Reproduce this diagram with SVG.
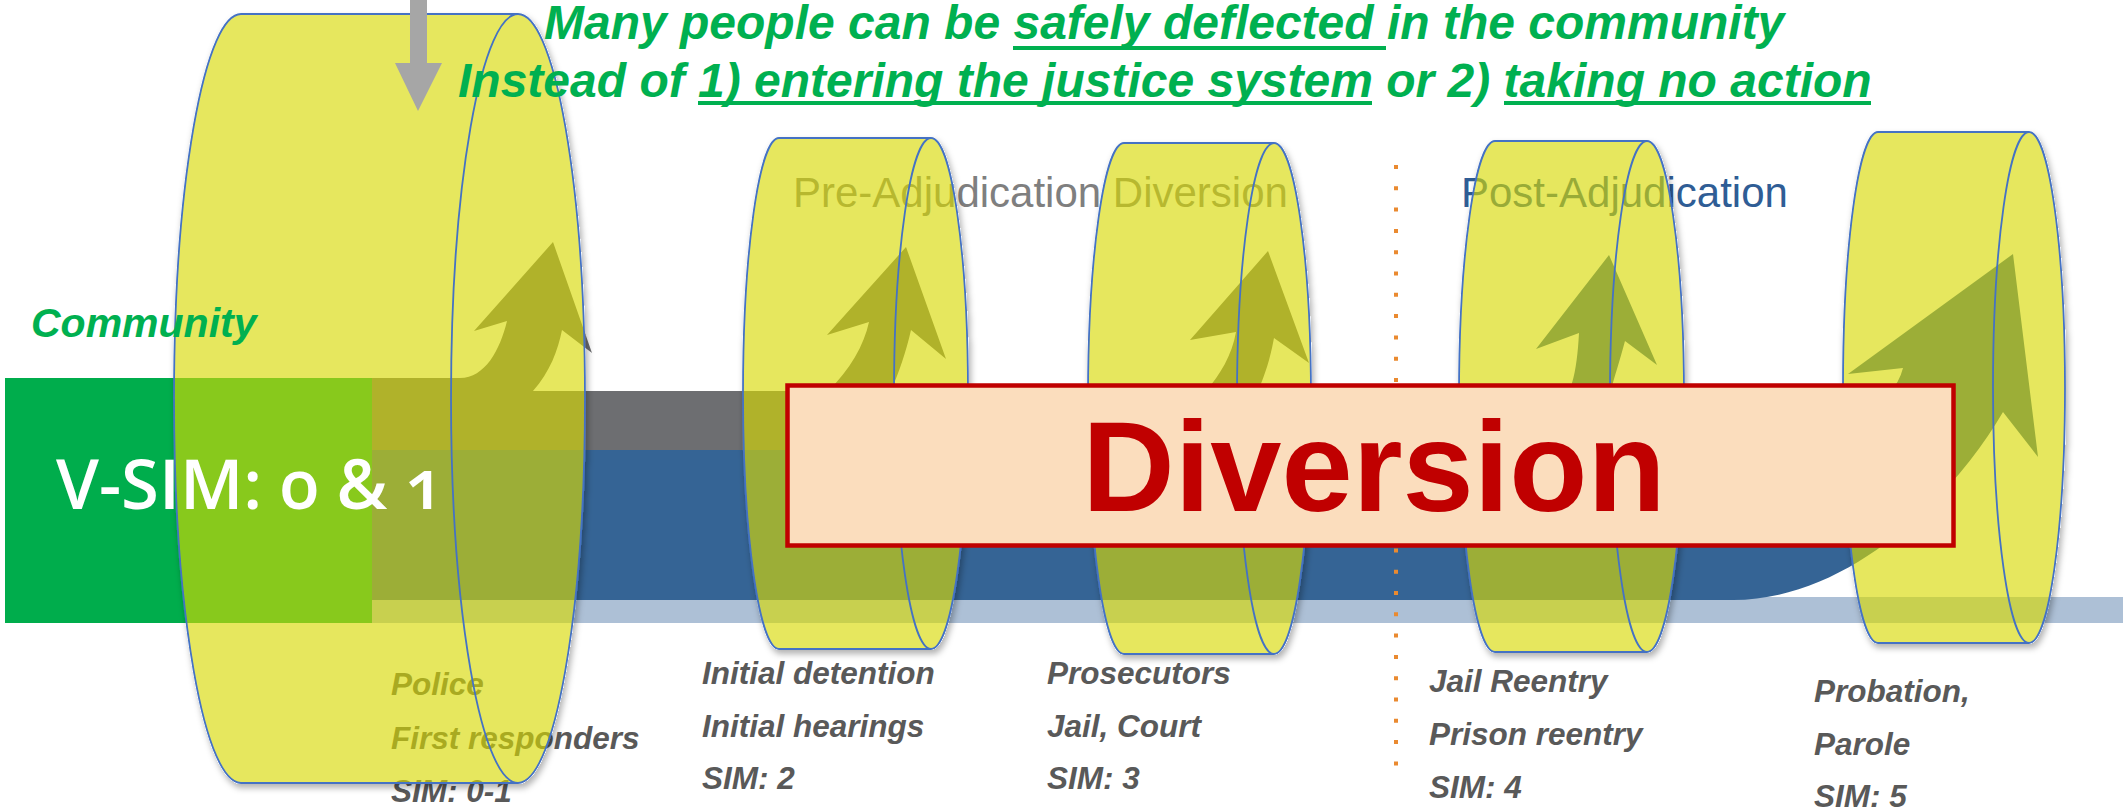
<svg xmlns="http://www.w3.org/2000/svg" width="2123" height="812" viewBox="0 0 2123 812">
<style>
.cyl{fill:#D7D906;fill-opacity:0.63;stroke:#4472C4;stroke-width:1.8;filter:url(#sh)}
.cin{fill:none;stroke:#4472C4;stroke-width:1.8}
.lbl{font-family:"Liberation Sans",Arial,sans-serif;font-weight:bold;font-style:italic;font-size:31.5px;fill:#595959}
.hdr{font-family:"Liberation Sans",Arial,sans-serif;font-weight:bold;font-style:italic;font-size:48px;fill:#00B050}
.phase{font-family:"Liberation Sans",Arial,sans-serif;font-size:42px}
</style>
<defs>
<filter id="sh" x="-30%" y="-5%" width="160%" height="112%">
<feComponentTransfer in="SourceAlpha" result="A"><feFuncA type="linear" slope="20"/></feComponentTransfer>
<feGaussianBlur in="A" stdDeviation="3"/>
<feOffset dx="2" dy="4" result="b"/>
<feComposite in="b" in2="A" operator="out" result="o"/>
<feColorMatrix in="o" type="matrix" values="0 0 0 0 0  0 0 0 0 0  0 0 0 0 0  0 0 0 0.3 0" result="s"/>
<feMerge><feMergeNode in="s"/><feMergeNode in="SourceGraphic"/></feMerge>
</filter>
</defs>
<rect width="2123" height="812" fill="#FFFFFF"/>

<g id="phase-labels">
<text class="phase" x="793" y="207" fill="#7F7F7F">Pre-Adjudication Diversion</text>
<text class="phase" x="1461" y="207" fill="#2F5D95">Post-Adjudication</text>
</g>

<g id="stage-labels">
<text class="lbl" x="391" y="695">Police</text>
<text class="lbl" x="391" y="749">First responders</text>
<text class="lbl" x="391" y="802">SIM: 0-1</text>
<text class="lbl" x="702" y="684">Initial detention</text>
<text class="lbl" x="702" y="737">Initial hearings</text>
<text class="lbl" x="702" y="789">SIM: 2</text>
<text class="lbl" x="1047" y="684">Prosecutors</text>
<text class="lbl" x="1047" y="737">Jail, Court</text>
<text class="lbl" x="1047" y="789">SIM: 3</text>
<text class="lbl" x="1429" y="692">Jail Reentry</text>
<text class="lbl" x="1429" y="745">Prison reentry</text>
<text class="lbl" x="1429" y="798">SIM: 4</text>
<text class="lbl" x="1814" y="702">Probation,</text>
<text class="lbl" x="1814" y="755">Parole</text>
<text class="lbl" x="1814" y="807">SIM: 5</text>
</g>

<g id="flow-bands">
<rect x="5" y="378" width="367" height="245" fill="#00AD4C"/>
<rect x="372" y="597" width="1751" height="26" fill="#ADC0D6"/>
<path d="M372 450 L1700 450 C1800 450 1890 420 1903 368 L1848 374 L2013 254 L2038 457 L2003 412 C1955 495 1850 600 1733 600 L372 600 Z" fill="#356495"/>
<path d="M1565 452 L1572 383 C1576 370 1578 352 1579 333 L1536 349 L1609 255 L1657 365 L1625 341 C1620 360 1614 378 1611 390 L1605 452 Z" fill="#356495"/>
<rect x="372" y="391" width="1200" height="59" fill="#6D6E71"/>
<path d="M372 378 L460 378 C485 378 500 350 507 321 L474 331 L553 242 L592 353 L562 330 C558 350 550 372 533 391 L372 391 Z" fill="#6D6E71"/>
<path d="M828 391 C850 370 864 345 869 322 L827 335 L906 247 L946 359 L911 330 C906 352 899 372 891 391 Z" fill="#6D6E71"/>
<path d="M1206 391 C1220 375 1232 355 1236 332 L1190 340 L1268 251 L1309 363 L1274 338 C1270 360 1264 377 1258 391 Z" fill="#6D6E71"/>
</g>

<g id="divider">
<line x1="1396" y1="165" x2="1396" y2="767" stroke="#EA8A30" stroke-width="4" stroke-dasharray="4 17.3"/>
</g>

<g id="cylinder-1">
<path class="cyl" d="M241 14 L518 14 A67 384.5 0 0 1 518 783 L241 783 A67 384.5 0 0 1 241 14 Z"/>
<path class="cin" d="M518 14 A67 384.5 0 0 0 518 783"/>
</g>
<g id="cylinder-2">
<path class="cyl" d="M779 138 L931 138 A37 255.5 0 0 1 931 649 L779 649 A36 255.5 0 0 1 779 138 Z"/>
<path class="cin" d="M931 138 A37 255.5 0 0 0 931 649"/>
</g>
<g id="cylinder-3">
<path class="cyl" d="M1124 143 L1274 143 A37 255.5 0 0 1 1274 654 L1124 654 A36 255.5 0 0 1 1124 143 Z"/>
<path class="cin" d="M1274 143 A37 255.5 0 0 0 1274 654"/>
</g>
<g id="cylinder-4">
<path class="cyl" d="M1495 141 L1647 141 A37 255.5 0 0 1 1647 652 L1495 652 A36 255.5 0 0 1 1495 141 Z"/>
<path class="cin" d="M1647 141 A37 255.5 0 0 0 1647 652"/>
</g>
<g id="cylinder-5">
<path class="cyl" d="M1878 132 L2029 132 A36 255.5 0 0 1 2029 643 L1878 643 A35 255.5 0 0 1 1878 132 Z"/>
<path class="cin" d="M2029 132 A36 255.5 0 0 0 2029 643"/>
</g>

<g id="vsim">
<text x="56" y="509" font-family="'Open Sans','Noto Sans',sans-serif" font-weight="600" font-size="68" fill="#FFFFFF" style="font-variant-numeric:oldstyle-nums" textLength="388" lengthAdjust="spacingAndGlyphs">V-SIM: 0 &amp; 1</text>
</g>

<g id="entry-arrow">
<path d="M410 0 L427 0 L427 63 L442 63 L418 111 L395 63 L410 63 Z" fill="#A6A6A6"/>
</g>

<g id="diversion">
<rect x="787.5" y="385.5" width="1166" height="160" fill="#FBDDBD" stroke="#C00000" stroke-width="4.5"/>
<text x="1374" y="511" font-family="'Liberation Sans',Arial,sans-serif" font-weight="bold" font-size="128" fill="#C00000" text-anchor="middle">Diversion</text>
</g>

<g id="headline">
<text class="hdr" x="544" y="39">Many people can be safely deflected in the community</text>
<text class="hdr" x="458" y="97">Instead of 1) entering the justice system or 2) taking no action</text>
<rect x="1013" y="46" width="373" height="4" fill="#00B050"/>
<rect x="698" y="101" width="674" height="4" fill="#00B050"/>
<rect x="1504" y="101" width="367" height="4" fill="#00B050"/>
</g>

<g id="community">
<text x="31" y="337" font-family="'Liberation Sans',Arial,sans-serif" font-weight="bold" font-style="italic" font-size="41" fill="#00B050">Community</text>
</g>
</svg>
